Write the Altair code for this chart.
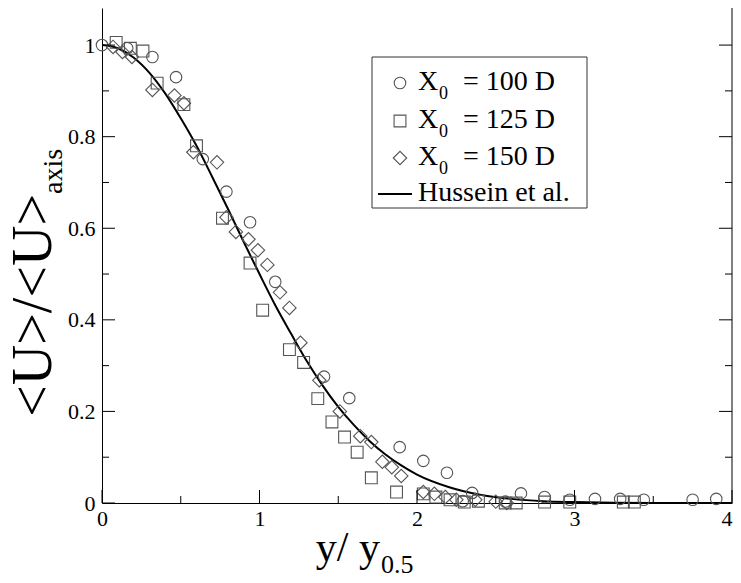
import altair as alt
import pandas as pd

# ---- data ----
c_x = [0.0, 0.16, 0.32, 0.47, 0.64, 0.79, 0.94, 1.10, 1.41, 1.57, 1.89, 2.04, 2.19, 2.35,
       2.29, 2.56, 2.66, 2.81, 2.97, 3.13, 3.29, 3.44, 3.75, 3.90]
c_y = [1.0, 0.993, 0.974, 0.93, 0.751, 0.68, 0.613, 0.483, 0.276, 0.229, 0.122, 0.092, 0.066, 0.022,
       0.004, 0.003, 0.021, 0.013, 0.007, 0.009, 0.009, 0.007, 0.007, 0.009]

s_x = [0.09, 0.18, 0.26, 0.35, 0.52, 0.60, 0.765, 0.94, 1.02, 1.19, 1.28, 1.37, 1.46, 1.54, 1.62,
       1.71, 1.87, 2.04, 2.12, 2.21, 2.30, 2.39, 2.56, 2.63, 2.81, 2.97, 3.31, 3.38]
s_y = [1.006, 0.993, 0.987, 0.917, 0.87, 0.78, 0.622, 0.524, 0.421, 0.335, 0.307, 0.228, 0.177, 0.144,
       0.111, 0.055, 0.024, 0.02, 0.013, 0.007, 0.002, 0.004, 0.0, 0.0, 0.002, 0.002, 0.002, 0.002]

d_x = [0.07, 0.13, 0.19, 0.32, 0.46, 0.52, 0.58, 0.73, 0.79, 0.85, 0.93, 0.99, 1.05, 1.13, 1.19,
       1.26, 1.38, 1.51, 1.64, 1.71, 1.78, 1.84, 1.90, 2.04, 2.11, 2.18, 2.25, 2.37, 2.50, 2.57]
d_y = [0.996, 0.985, 0.974, 0.902, 0.89, 0.873, 0.766, 0.744, 0.624, 0.592, 0.576, 0.552, 0.52, 0.46,
       0.426, 0.35, 0.268, 0.2, 0.146, 0.133, 0.09, 0.078, 0.059, 0.024, 0.02, 0.013, 0.007, 0.007,
       0.003, 0.0]

# Hussein et al. curve
h_x = [0.0, 0.1, 0.2, 0.3, 0.4, 0.5, 0.6, 0.7, 0.8, 0.9, 1.0, 1.1, 1.2, 1.3, 1.4, 1.5, 1.6, 1.7,
       1.8, 1.9, 2.0, 2.2, 2.4, 2.6, 2.8, 3.0, 3.5, 4.0]
h_y = [1.0, 0.993, 0.973, 0.94, 0.895, 0.84, 0.78, 0.712, 0.642, 0.57, 0.5, 0.432, 0.37, 0.31,
       0.257, 0.21, 0.17, 0.135, 0.106, 0.082, 0.062, 0.035, 0.018, 0.009, 0.004, 0.002, 0.0, 0.0]

x_major = [0, 1, 2, 3, 4]
x_minor = [0.5, 1.5, 2.5, 3.5]
y_major = [0, 0.2, 0.4, 0.6, 0.8, 1.0]
y_minor = [0.1, 0.3, 0.5, 0.7, 0.9]

legend_labels = ["100 D", "125 D", "150 D"]
line_label = "Hussein et al."

# ---- layout ----
W, H = 630, 495
FONT = "Liberation Serif"
MK = "#555555"

XS = alt.Scale(domain=[0, 4], nice=False, zero=False)
YS = alt.Scale(domain=[0, 1.081], nice=False, zero=False)
XA = alt.Axis(title=None, values=x_major, format="~g", ticks=False, tickSize=0, grid=False,
              domainColor="black", domainWidth=1, labelFont=FONT, labelFontSize=22,
              labelColor="black", labelPadding=5, labelFlush=False,
              labelAlign=alt.condition("datum.value >= 4", alt.value("right"), alt.value("center")))
YA = alt.Axis(title=None, values=y_major, format="~g", ticks=False, tickSize=0, grid=False,
              domainColor="black", domainWidth=1, labelFont=FONT, labelFontSize=22,
              labelColor="black", labelPadding=7, labelFlush=False)


def pts(xs, ys, shape, size):
    df = pd.DataFrame({"x": xs, "y": ys})
    return alt.Chart(df).mark_point(shape=shape, filled=False, size=size, color=MK,
                                    strokeWidth=1.1, opacity=1).encode(
        x=alt.X("x:Q", scale=XS, axis=XA), y=alt.Y("y:Q", scale=YS, axis=YA))


curve = alt.Chart(pd.DataFrame({"x": h_x, "y": h_y})).mark_line(
    color="black", strokeWidth=2, interpolate="monotone", clip=True).encode(
    x=alt.X("x:Q", scale=XS, axis=XA), y=alt.Y("y:Q", scale=YS, axis=YA))


def yticks(vals, length):
    df = pd.DataFrame({"v": vals})
    left = alt.Chart(df).mark_rule(color="black", strokeWidth=1).encode(
        y=alt.Y("v:Q", scale=YS, axis=YA), x=alt.value(0), x2=alt.value(length))
    right = alt.Chart(df).mark_rule(color="black", strokeWidth=1).encode(
        y=alt.Y("v:Q", scale=YS, axis=YA), x=alt.value(W), x2=alt.value(W - length))
    return [left, right]


def xticks(vals, length):
    df = pd.DataFrame({"v": vals})
    return [alt.Chart(df).mark_rule(color="black", strokeWidth=1).encode(
        x=alt.X("v:Q", scale=XS, axis=XA), y=alt.value(H), y2=alt.value(H - length))]


one = pd.DataFrame({"k": [0]})


def txt(t, x, y, size, align="left", angle=0, color="black"):
    return alt.Chart(one).mark_text(text=t, font=FONT, fontSize=size, align=align,
                                    baseline="alphabetic", angle=angle, color=color).encode(
        x=alt.value(x), y=alt.value(y))


right_border = alt.Chart(one).mark_rule(color="black", strokeWidth=1).encode(
    x=alt.value(W), y=alt.value(0), y2=alt.value(H))

# axis titles
ytitle = [txt("<U>/<U>", -51, 186, 56, align="right", angle=270),
          txt("axis", -40, 186, 28, align="left", angle=270)]
xtitle = [txt("y/ y", 278, 553, 42, align="right"),
          txt("0.5", 279, 565, 26, align="left")]

# legend
LX = 270
box = alt.Chart(one).mark_rect(fill="white", stroke="#333333", strokeWidth=1).encode(
    x=alt.value(LX), x2=alt.value(LX + 215), y=alt.value(49), y2=alt.value(200))
shapes = [("circle", 133), ("square", 140), ("diamond", 180)]
rows_sym = [75, 113, 150]
rows_txt = [82, 120, 157]
leg = [box]
for (shp, sz), ys, yt, lab in zip(shapes, rows_sym, rows_txt, legend_labels):
    leg.append(alt.Chart(one).mark_point(shape=shp, filled=False, size=sz, color=MK,
                                         strokeWidth=1.1, opacity=1).encode(
        x=alt.value(LX + 28), y=alt.value(ys)))
    leg.append(txt("X", LX + 46, yt, 28))
    leg.append(txt("0", LX + 67, yt + 9, 18))
    leg.append(txt("= " + lab, LX + 91, yt, 28))
leg.append(alt.Chart(one).mark_rule(color="black", strokeWidth=2).encode(
    x=alt.value(LX + 6), x2=alt.value(LX + 40), y=alt.value(186)))
leg.append(txt(line_label, LX + 46, 193, 28))

layers = ([curve,
           pts(c_x, c_y, "circle", 133),
           pts(s_x, s_y, "square", 140),
           pts(d_x, d_y, "diamond", 180)]
          + yticks(y_major, 13) + yticks(y_minor, 7)
          + xticks(x_major, 13) + xticks(x_minor, 7)
          + [right_border] + ytitle + xtitle + leg)

chart = alt.layer(*layers).properties(
    width=W, height=H,
    autosize=alt.AutoSizeParams(type="none"),
    padding={"left": 94, "top": 0, "right": 1, "bottom": 72},
    background="white",
).configure_view(stroke=None)

chart.save("out.html", embed_options={"renderer": "svg", "actions": False})
